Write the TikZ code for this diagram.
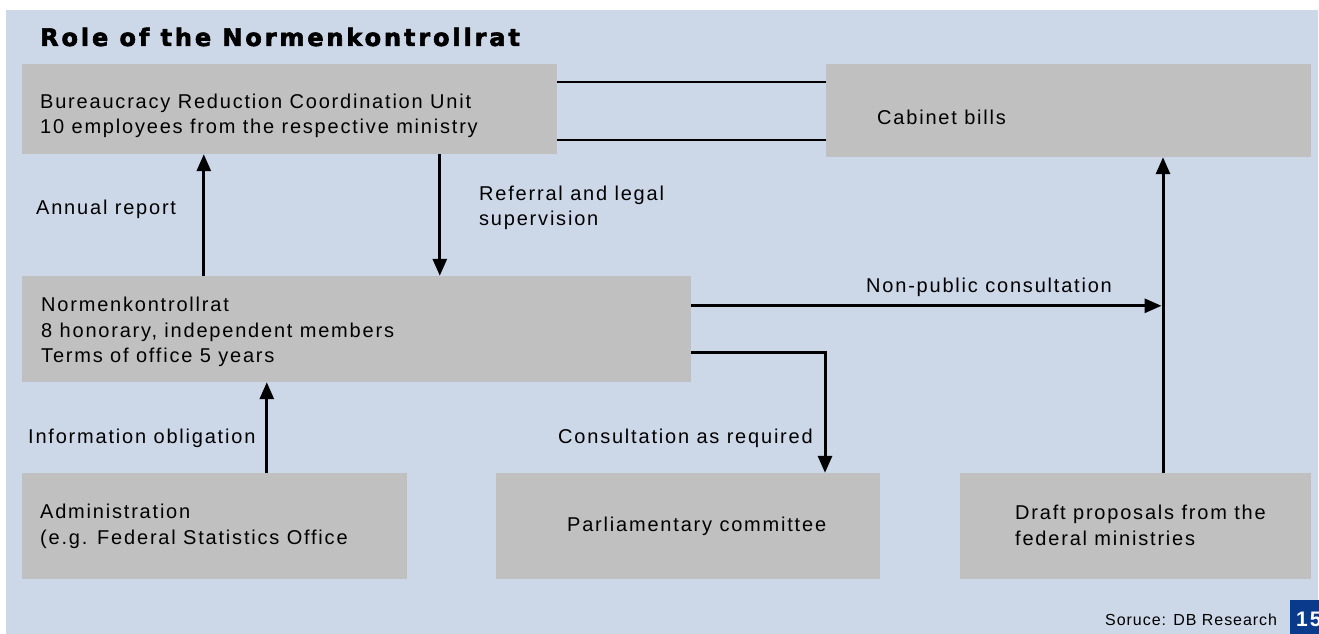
\documentclass[tikz,border=0pt]{standalone}
\usepackage{fontspec}
\setmainfont{Liberation Sans}[LetterSpace=9]
\newfontfamily\titlefont{DejaVu Sans}[LetterSpace=12,FakeBold=2.5]
\newfontfamily\srcfont{Liberation Sans}[LetterSpace=6]
\usetikzlibrary{arrows.meta,calc}
\definecolor{bgblue}{RGB}{204,215,232}
\definecolor{boxgray}{RGB}{192,192,192}
\definecolor{dbblue}{RGB}{10,58,140}
\begin{document}
\begin{tikzpicture}[x=1pt,y=-1pt,
  box/.style={fill=boxgray, draw=none, rectangle, anchor=center, inner sep=0pt},
  txt/.style={font=\fontsize{20}{25.5}\selectfont, align=left, anchor=west, inner sep=0pt},
  lbl/.style={font=\fontsize{20}{25.5}\selectfont, align=left, anchor=west, inner sep=0pt},
  arr/.style={line width=3pt, -{Triangle[length=17pt,width=14pt]}},
  link/.style={line width=2.5pt}]
\useasboundingbox (0,0) rectangle (1319,634);
\fill[white] (0,0) rectangle (1319,634);
\fill[bgblue] (6,10) rectangle (1318,634);
% title
\node[anchor=west, inner sep=0pt, font=\titlefont\fontsize{24}{27}\selectfont\bfseries] (title) at (40,37) {Role of the Normenkontrollrat};
% boxes
\node[box, minimum width=535pt, minimum height=90pt] (bur) at (289.5,109) {};
\node[box, minimum width=485pt, minimum height=93pt] (cab) at (1068.5,110.5) {};
\node[box, minimum width=669pt, minimum height=106pt] (nkr) at (356.5,329) {};
\node[box, minimum width=385pt, minimum height=106pt] (adm) at (214.5,526) {};
\node[box, minimum width=384pt, minimum height=106pt] (par) at (688,526) {};
\node[box, minimum width=351pt, minimum height=106pt] (dra) at (1135.5,526) {};
% box texts
\node[txt] (burt) at (40,116) {Bureaucracy Reduction Coordination Unit\\10 employees from the respective ministry};
\node[txt] (cabt) at (877,117) {Cabinet bills};
\node[txt] (nkrt) at (41,332) {Normenkontrollrat\\8 honorary, independent members\\Terms of office 5 years};
\node[txt] (admt) at (40,526.5) {Administration\\(e.g. Federal Statistics Office};
\node[txt] (part) at (567,526) {Parliamentary committee};
\node[txt] (drat) at (1015,525.5) {Draft proposals from the\\federal ministries};
% links bur - cab
\draw[link] ([yshift=-18pt]bur.north east) -- ([yshift=-18pt]bur.north east -| cab.west);
\draw[link] ([yshift=14pt]bur.south east) -- ([yshift=14pt]bur.south east -| cab.west);
% annual report
\coordinate (ar) at ([xshift=182pt]nkr.north west);
\draw[arr] (ar) -- (ar |- bur.south);
\node[lbl] (arl) at (36,209) {Annual report};
% referral
\coordinate (rf) at ([xshift=418pt]bur.south west);
\draw[arr] (rf) -- (rf |- nkr.north);
\node[lbl] (rfl) at (479,208) {Referral and legal\\supervision};
% draft to cabinet
\coordinate (v) at ([xshift=27.5pt]dra.north);
\draw[arr] (v) -- (v |- cab.south);
% non-public
\coordinate (np) at ([yshift=-30pt]nkr.north east);
\draw[arr] (np) -- ([xshift=-1.5pt]np -| v);
\node[lbl] (npl) at (866,287) {Non-public consultation};
% consultation as required
\coordinate (cr) at ([xshift=137pt]par.north);
\draw[arr] ([yshift=30pt]nkr.south east) -| (cr);
\node[lbl] (crl) at (558,438) {Consultation as required};
% information obligation
\coordinate (io) at ([xshift=245pt]adm.north west);
\draw[arr] (io) -- (io |- nkr.south);
\node[lbl] (iol) at (28,438) {Information obligation};
% source
\node[anchor=west, inner sep=0pt, font=\srcfont\fontsize{16}{18}\selectfont] (src) at (1105,620) {Soruce: DB Research};
\fill[dbblue] (1290,600) rectangle (1330,634);
\node[anchor=west, inner sep=0pt, text=white, font=\fontsize{21}{24}\selectfont\bfseries] (pg) at (1296,619) {15};
\end{tikzpicture}
\end{document}
